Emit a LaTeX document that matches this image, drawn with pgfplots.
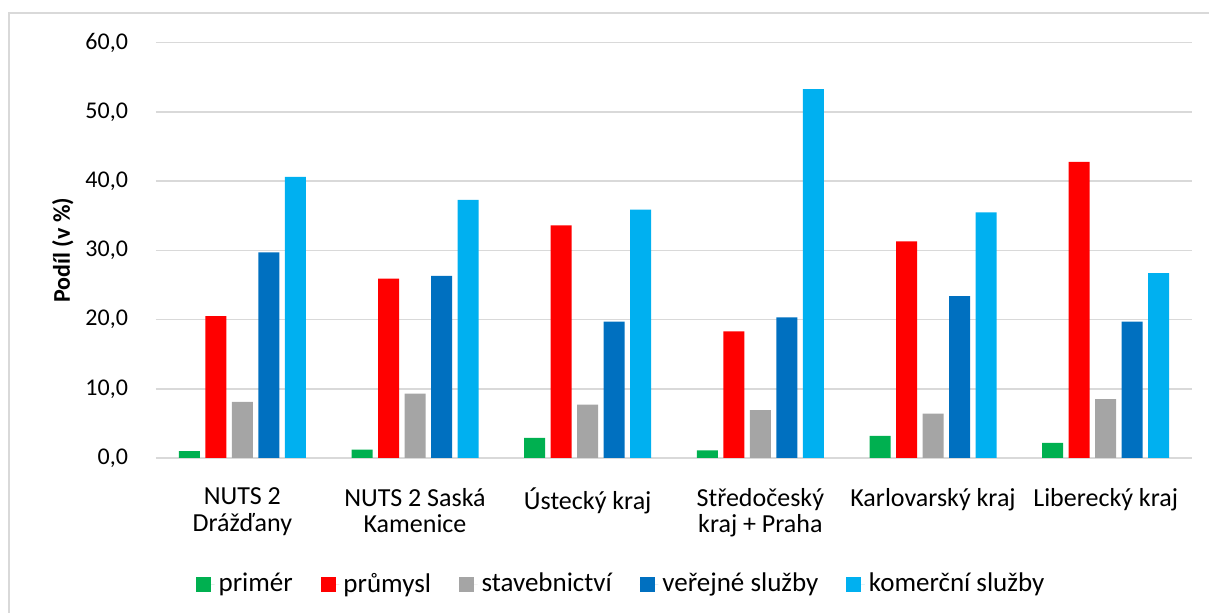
\documentclass[border=0pt]{standalone}
\usepackage{fontspec}
\setmainfont{Carlito}
\usepackage{pgfplots}
\pgfplotsset{compat=1.18}

\definecolor{cPrimer}{HTML}{00B050}
\definecolor{cPrumysl}{HTML}{FF0000}
\definecolor{cStav}{HTML}{A5A5A5}
\definecolor{cVerej}{HTML}{0070C0}
\definecolor{cKomer}{HTML}{00B0F0}
\definecolor{gridgray}{HTML}{D9D9D9}

\begin{document}
\begin{tikzpicture}
\useasboundingbox (-78pt,-77.5pt) rectangle (526.5pt,229pt);
\draw[gridgray, line width=0.75pt] (-73.5pt,-90pt) -- (-73.5pt,222.5pt) -- (540pt,222.5pt);
\begin{axis}[
    scale only axis,
    width=518pt,
    height=207.65pt,
    ybar=2.75pt,
    bar width=10.5pt,
    xmin=-0.5, xmax=5.5,
    ymin=0, ymax=60,
    ytick={0,10,...,60},
    xtick=data,
    xticklabels={{NUTS 2\\Drážďany},{NUTS 2 Saská\\Kamenice},{Ústecký kraj},{Středočeský\\kraj + Praha},{Karlovarský kraj},{Liberecký kraj}},
    xticklabel style={align=center, font=\fontsize{13}{13.4}\selectfont, yshift=-11.5pt},
    yticklabel style={font=\fontsize{12}{14}\selectfont, xshift=-10.5pt},
    /pgf/number format/.cd, fixed, fixed zerofill, precision=1, use comma, assume math mode=true,
    /pgfplots/.cd,
    major tick length=0pt,
    axis line style={draw=none},
    ymajorgrids=true,
    grid style={gridgray, line width=0.75pt},
    ylabel={Podíl (v \%)},
    ylabel style={at={(axis description cs:-0.09,0.5)}, anchor=center, font=\fontsize{12}{14}\selectfont\bfseries},
    legend columns=5,
    legend style={at={(0.45,-0.3036)}, anchor=center, draw=none, font=\fontsize{13.5}{15}\selectfont,
        /tikz/every even column/.append style={column sep=12pt}},
    legend image code/.code={\fill[#1] (0pt,-3.75pt) rectangle (7.5pt,3.75pt); \path (0pt,0pt) -- (9.3pt,0pt);},
    every axis plot/.append style={draw=none},
]
\addplot[fill=cPrimer] coordinates {(0,1.0) (1,1.2) (2,2.9) (3,1.1) (4,3.2) (5,2.2)};
\addlegendentry{primér}
\addplot[fill=cPrumysl] coordinates {(0,20.5) (1,25.9) (2,33.6) (3,18.3) (4,31.3) (5,42.8)};
\addlegendentry{průmysl}
\addplot[fill=cStav] coordinates {(0,8.1) (1,9.3) (2,7.7) (3,6.9) (4,6.4) (5,8.5)};
\addlegendentry{stavebnictví}
\addplot[fill=cVerej] coordinates {(0,29.7) (1,26.3) (2,19.7) (3,20.3) (4,23.4) (5,19.7)};
\addlegendentry{veřejné služby}
\addplot[fill=cKomer] coordinates {(0,40.6) (1,37.3) (2,35.9) (3,53.3) (4,35.5) (5,26.7)};
\addlegendentry{komerční služby}
\end{axis}
\end{tikzpicture}
\end{document}
